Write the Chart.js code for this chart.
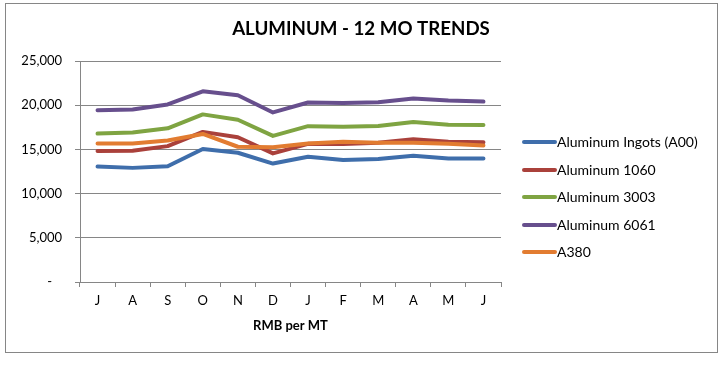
<!DOCTYPE html>
<html>
<head>
<meta charset="utf-8">
<script src="https://cdn.jsdelivr.net/npm/chart.js@4.4.1/dist/chart.umd.min.js"></script>
<style>
  html, body { margin: 0; padding: 0; background: #fff; }
  #wrap { position: relative; width: 724px; height: 367px; }
</style>
</head>
<body>
<div id="wrap"><canvas id="c" width="724" height="367"></canvas></div>
<script>
const months = ['J','A','S','O','N','D','J','F','M','A','M','J'];
const ingotsA00 = [13060,12910,13090,15040,14620,13400,14170,13800,13920,14290,13980,13980];
const alu1060   = [14810,14850,15370,16980,16380,14550,15630,15600,15740,16160,15860,15820];
const alu3003   = [16790,16900,17390,18960,18350,16530,17630,17570,17650,18100,17800,17760];
const alu6061   = [19440,19520,20080,21570,21120,19180,20300,20260,20340,20750,20520,20410];
const a380      = [15670,15670,16000,16750,15300,15250,15670,15860,15740,15740,15630,15440];
const seriesNames = ['Aluminum Ingots (A00)','Aluminum 1060','Aluminum 3003','Aluminum 6061','A380'];
const yTicks = [0,5000,10000,15000,20000,25000];
const chartTitle = 'ALUMINUM - 12 MO TRENDS';
const xTitle = 'RMB per MT';

const colors = ['#3F6EAB','#AA413B','#7FA442','#674F8D','#E27C31'];
const seriesData = [ingotsA00, alu1060, alu3003, alu6061, a380];

Chart.defaults.font.family = 'Lato, "Open Sans", sans-serif';
Chart.defaults.font.size = 13;
Chart.defaults.color = '#000';

const AXIS = '#868686';

const framePlugin = {
  id: 'frame',
  beforeDraw(chart) {
    const ctx = chart.ctx;
    ctx.save();
    ctx.fillStyle = '#fff';
    ctx.fillRect(0, 0, chart.width, chart.height);
    ctx.strokeStyle = AXIS;
    ctx.lineWidth = 1;
    ctx.strokeRect(5.5, 3.5, 712, 349);
    ctx.fillStyle = '#000';
    ctx.font = 'bold 18.7px Lato, "Open Sans", sans-serif';
    ctx.textAlign = 'center';
    ctx.textBaseline = 'middle';
    ctx.fillText(chartTitle, 361, 29);
    ctx.restore();
  },
  afterDraw(chart) {
    const ctx = chart.ctx;
    ctx.save();
    const ys = [142, 170, 197, 225, 252];
    chart.data.datasets.forEach((ds, i) => {
      const y = ys[i];
      ctx.strokeStyle = ds.borderColor;
      ctx.lineWidth = 4;
      ctx.lineCap = 'round';
      ctx.beginPath();
      ctx.moveTo(524, y);
      ctx.lineTo(555, y);
      ctx.stroke();
      ctx.fillStyle = '#000';
      ctx.font = '14px Lato, "Open Sans", sans-serif';
      ctx.textAlign = 'left';
      ctx.textBaseline = 'middle';
      ctx.fillText(ds.label, 557, y);
    });
    ctx.restore();
  }
};

new Chart(document.getElementById('c'), {
  type: 'line',
  data: {
    labels: months,
    datasets: seriesData.map((d, i) => ({
      label: seriesNames[i],
      data: d,
      borderColor: colors[i],
      backgroundColor: colors[i],
      borderWidth: 4,
      pointRadius: 0,
      pointHoverRadius: 0,
      tension: 0,
      borderCapStyle: 'round',
      borderJoinStyle: 'round',
      order: seriesData.length - i
    }))
  },
  options: {
    responsive: false,
    animation: false,
    events: [],
    layout: { padding: { left: 0, top: 61, right: 223, bottom: 25 } },
    plugins: {
      legend: { display: false },
      title: { display: false },
      tooltip: { enabled: false }
    },
    scales: {
      x: {
        type: 'category',
        offset: true,
        grid: { display: true, drawOnChartArea: false, offset: true, tickLength: 5, color: AXIS, tickColor: AXIS },
        border: { display: true, color: AXIS },
        ticks: { padding: 6, maxRotation: 0, autoSkip: false, color: '#000' },
        title: { display: true, text: xTitle, font: { weight: 'bold', size: 13 }, padding: { top: 0, bottom: 8 }, color: '#000' },
        afterFit(scale) { scale.height = 60; }
      },
      y: {
        min: 0,
        max: 25000,
        afterBuildTicks(scale) { scale.ticks = yTicks.map(v => ({ value: v })); },
        grid: { color: AXIS, tickColor: AXIS, tickLength: 5 },
        border: { display: true, color: AXIS },
        ticks: {
          padding: 13,
          color: '#000',
          callback: v => v === 0 ? '-   ' : Number(v).toLocaleString('en-US')
        },
        afterFit(scale) { scale.width = 80; }
      }
    }
  },
  plugins: [framePlugin]
});
</script>
</body>
</html>
